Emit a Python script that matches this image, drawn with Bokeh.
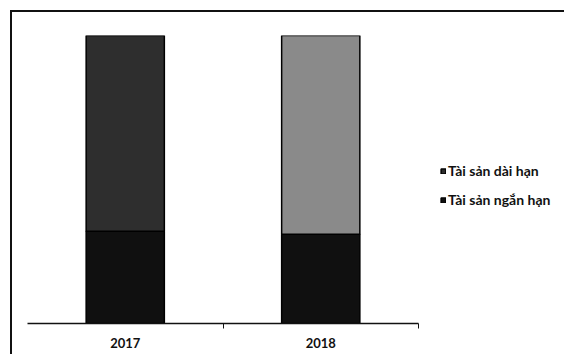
from bokeh.plotting import figure
from bokeh.models import Range1d, ColumnDataSource, Legend, LegendItem, FixedTicker
from bokeh.embed import file_html
from bokeh.resources import INLINE

years = ["2017", "2018"]
ngan_han = [0.32, 0.31]   # Tài sản ngắn hạn (share)
dai_han = [0.68, 0.69]    # Tài sản dài hạn (share)
series_names = ["Tài sản ngắn hạn", "Tài sản dài hạn"]
top_colors = ["#2e2e2e", "#8a8a8a"]

x_pos = [i + 0.5 for i in range(len(years))]
bounds = list(range(len(years) + 1))

source = ColumnDataSource(dict(x=x_pos, ngan=ngan_han, dai=dai_han, topc=top_colors))

# frame is 539 px wide; one category slot is 195.5 px
p = figure(width=554, height=344, x_range=Range1d(0, 539 / 195.5),
           y_range=Range1d(0, 1.0), output_backend="svg", toolbar_location=None,
           min_border_left=15, min_border_top=23, min_border_bottom=33, min_border_right=0,
           styles={"margin": "10px 0 0 10px", "border-top": "2px solid #111",
                   "border-left": "2px solid #111"})

rs = p.vbar_stack(["ngan", "dai"], x="x", width=0.40, source=source,
                  color=["#101010", "#2e2e2e"], line_color="#000000", line_width=1.5)
rs[1].glyph.fill_color = {"field": "topc"}

p.yaxis.visible = False
p.xgrid.grid_line_color = None
p.ygrid.grid_line_color = None
p.outline_line_color = None
p.xaxis.ticker = FixedTicker(ticks=x_pos, minor_ticks=bounds[1:])
p.xaxis.major_label_overrides = {x: y for x, y in zip(x_pos, years)}
p.xaxis.bounds = (bounds[0], bounds[-1])
p.xaxis.axis_line_color = "#111"
p.xaxis.axis_line_width = 1.5
p.xaxis.major_tick_line_color = None
p.xaxis.minor_tick_line_color = "#111"
p.xaxis.minor_tick_in = 0
p.xaxis.minor_tick_out = 5
p.xaxis.major_label_text_font = "Lato"
p.xaxis.major_label_text_font_style = "bold"
p.xaxis.major_label_text_font_size = "13px"
p.xaxis.major_label_text_color = "#111"
p.xaxis.major_label_standoff = 8

legend = Legend(items=[LegendItem(label=series_names[1], renderers=[rs[1]]),
                       LegendItem(label=series_names[0], renderers=[rs[0]])],
                location=(413, 115), border_line_color=None, background_fill_alpha=0,
                label_text_font="Lato", label_text_font_style="bold",
                label_text_font_size="14px", label_text_color="#111",
                glyph_width=6, glyph_height=6, label_height=16,
                spacing=12, label_standoff=2, padding=0, margin=0)
p.add_layout(legend)

open("out.html", "w").write(file_html(p, INLINE))
